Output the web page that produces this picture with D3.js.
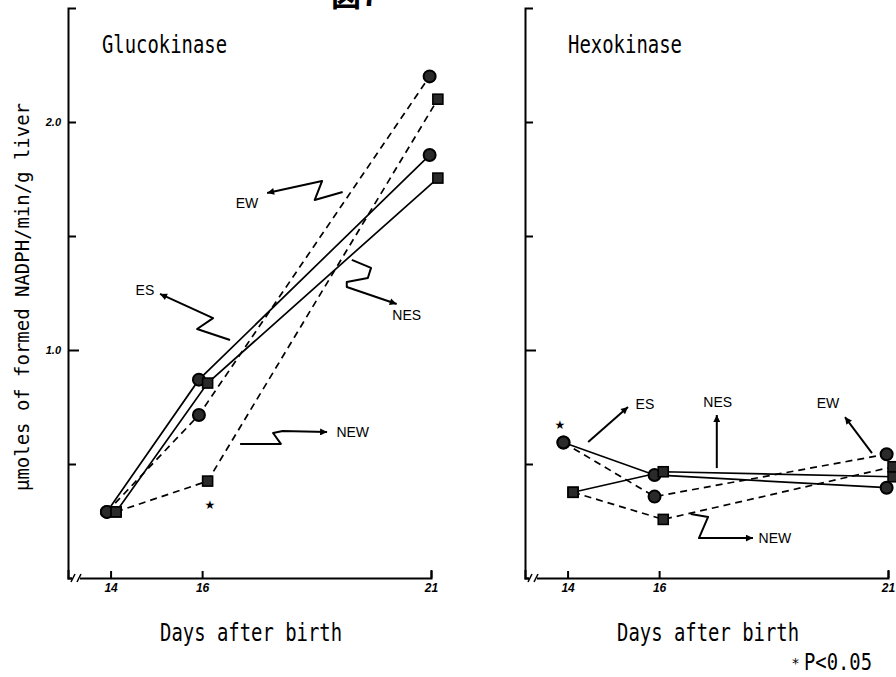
<!DOCTYPE html>
<html>
<head>
<meta charset="utf-8">
<script src="https://cdn.jsdelivr.net/npm/d3@7"></script>
<style>
  body { margin: 0; background: #fff; }
  .mono { font-family: "DejaVu Sans Mono", monospace; fill: #000; }
  .tag { font-family: "Liberation Sans", Arial, sans-serif; font-size: 14px; fill: #000; }
  .tick text { font-family: "Liberation Sans", Arial, sans-serif; font-style: italic; font-weight: bold; }
</style>
</head>
<body>
<div id="chart"></div>
<script>
// axis ticks
var tickDays = [14, 16, 21];
var yTicks = [0.5, 1.0, 1.5, 2.0];
var yLabelled = [1.0, 2.0];

// Glucokinase: days (circles / squares sit a little apart) and values
var gkDayCircle = [13.92, 15.93, 20.97];
var gkDaySquare = [14.12, 16.12, 21.15];
var gkES  = [0.29, 0.87, 1.855];
var gkEW  = [0.29, 0.715, 2.20];
var gkNES = [0.29, 0.855, 1.754];
var gkNEW = [0.29, 0.425, 2.10];

// Hexokinase
var hkDayCircle = [13.91, 15.9, 20.97];
var hkDaySquare = [14.12, 16.09, 21.11];
var hkES  = [0.594, 0.452, 0.396];
var hkEW  = [0.594, 0.357, 0.543];
var hkNES = [0.376, 0.466, 0.444];
var hkNEW = [0.376, 0.257, 0.488];

// annotation arrows, in (day, value)
var gkNotes = [
    {label: "EW", path: [[19.07, 1.693], [18.46, 1.658], [18.62, 1.741], [17.42, 1.689]], at: [16.98, 1.645]},
    {label: "ES", path: [[16.61, 1.044], [15.89, 1.092], [16.24, 1.140], [15.08, 1.246]], at: [14.75, 1.263]},
    {label: "NES", path: [[19.27, 1.395], [19.69, 1.360], [19.62, 1.316], [19.16, 1.298], [19.16, 1.276], [20.25, 1.202]], at: [20.47, 1.154]},
    {label: "NEW", path: [[16.83, 0.588], [17.72, 0.588], [17.55, 0.636], [17.76, 0.645], [18.73, 0.640]], at: [19.29, 0.640]}
];
var gkStars = [[16.17, 0.333]];

var hkNotes = [
    {label: "ES", path: [[14.45, 0.596], [15.32, 0.750]], at: [15.69, 0.762]},
    {label: "NES", path: [[17.26, 0.482], [17.26, 0.715]], at: [17.28, 0.772]},
    {label: "EW", path: [[20.65, 0.548], [20.06, 0.706]], at: [19.69, 0.768]},
    {label: "NEW", path: [[16.69, 0.281], [17.07, 0.268], [16.87, 0.175], [18.05, 0.175]], at: [18.53, 0.175]}
];
var hkStars = [[13.83, 0.684]];

var width = 896, height = 677;

var svg = d3.select("#chart").append("svg")
    .attr("width", width)
    .attr("height", height);

svg.append("defs").append("marker")
    .attr("id", "head")
    .attr("viewBox", "0 0 10 10")
    .attr("refX", 10).attr("refY", 5)
    .attr("markerWidth", 11).attr("markerHeight", 7)
    .attr("markerUnits", "userSpaceOnUse")
    .attr("orient", "auto")
    .append("path")
    .attr("d", "M0,0 L10,5 L0,10 Z")
    .attr("fill", "#000");

var y = d3.scaleLinear().domain([0, 2.5]).range([578, 8]);

// figure number, cut off at the top edge as in the scan
svg.append("text")
    .attr("x", 331).attr("y", 6)
    .attr("font-family", "Noto Sans CJK JP")
    .attr("font-weight", "bold")
    .attr("font-size", 30)
    .text("図7");

function drawPanel(left, title, titleX, titleLen, series, notes, stars, withLabels) {
    var x = d3.scaleLinear().domain([13.07, 21]).range([left, left + 363]);
    var g = svg.append("g");

    // y axis, ticks pointing inward
    var ya = g.append("g")
        .attr("transform", "translate(" + left + ",0)")
        .call(d3.axisRight(y).tickValues(yTicks).tickSize(8).tickSizeOuter(8).tickFormat(""));
    ya.selectAll("path, line").attr("stroke", "#000").attr("stroke-width", 2);
    ya.selectAll(".tick line").filter(function (d) { return d === 1; }).attr("x2", 11);

    if (withLabels) {
        var yl = g.append("g")
            .attr("transform", "translate(" + left + ",0)")
            .call(d3.axisLeft(y).tickValues(yLabelled).tickSize(0).tickPadding(7).tickFormat(d3.format(".1f")));
        yl.select(".domain").remove();
        yl.selectAll("text").attr("font-size", 11).attr("fill", "#000");
    }

    // x axis
    var xa = g.append("g")
        .attr("transform", "translate(0,578)")
        .call(d3.axisBottom(x).tickValues(tickDays).tickSize(-7).tickSizeOuter(-8).tickPadding(5));
    xa.selectAll("path, line").attr("stroke", "#000").attr("stroke-width", 2);
    xa.selectAll("text").attr("font-size", 12).attr("fill", "#000");

    // axis break
    xa.append("rect").attr("x", left + 4).attr("y", -3).attr("width", 8).attr("height", 6).attr("fill", "#fff");
    [left + 5, left + 11].forEach(function (cx) {
        xa.append("line")
            .attr("x1", cx - 2).attr("y1", 4).attr("x2", cx + 2).attr("y2", -4)
            .attr("stroke", "#000").attr("stroke-width", 1.5);
    });

    g.append("text").attr("class", "mono")
        .attr("x", titleX).attr("y", 53)
        .attr("font-size", 25)
        .attr("textLength", titleLen).attr("lengthAdjust", "spacingAndGlyphs")
        .text(title);

    var line = d3.line()
        .x(function (d) { return x(d[0]); })
        .y(function (d) { return y(d[1]); });

    g.selectAll(".series")
        .data(series)
        .enter().append("path")
        .attr("class", "series")
        .attr("d", function (d) { return line(d3.zip(d.days, d.vals)); })
        .attr("fill", "none")
        .attr("stroke", "#000")
        .attr("stroke-width", 1.7)
        .attr("stroke-dasharray", function (d) { return d.dashed ? "7,5" : null; });

    series.forEach(function (s) {
        var pts = d3.zip(s.days, s.vals);
        if (s.shape === "circle") {
            g.selectAll(null).data(pts).enter().append("circle")
                .attr("cx", function (d) { return x(d[0]); })
                .attr("cy", function (d) { return y(d[1]); })
                .attr("r", 6)
                .attr("fill", "#2a2a2a")
                .attr("stroke", "#000")
                .attr("stroke-width", 2);
        } else {
            g.selectAll(null).data(pts).enter().append("rect")
                .attr("x", function (d) { return x(d[0]) - 5; })
                .attr("y", function (d) { return y(d[1]) - 5; })
                .attr("width", 10).attr("height", 10)
                .attr("fill", "#2a2a2a")
                .attr("stroke", "#000")
                .attr("stroke-width", 1.6);
        }
    });

    g.selectAll(".note")
        .data(notes)
        .enter().append("path")
        .attr("class", "note")
        .attr("d", function (d) { return line(d.path); })
        .attr("fill", "none")
        .attr("stroke", "#000")
        .attr("stroke-width", 2)
        .attr("stroke-linejoin", "round")
        .attr("marker-end", "url(#head)");

    g.selectAll(".tag")
        .data(notes)
        .enter().append("text")
        .attr("class", "tag")
        .attr("x", function (d) { return x(d.at[0]); })
        .attr("y", function (d) { return y(d.at[1]); })
        .attr("dy", "0.35em")
        .attr("text-anchor", "middle")
        .text(function (d) { return d.label; });

    g.selectAll(".star")
        .data(stars)
        .enter().append("text")
        .attr("class", "star")
        .attr("x", function (d) { return x(d[0]); })
        .attr("y", function (d) { return y(d[1]); })
        .attr("dy", "0.6em")
        .attr("text-anchor", "middle")
        .attr("font-family", "DejaVu Sans")
        .attr("font-size", 12)
        .text("\u2605");

    g.append("text").attr("class", "mono")
        .attr("x", x(17.07)).attr("y", 641)
        .attr("text-anchor", "middle")
        .attr("font-size", 25)
        .attr("textLength", 182).attr("lengthAdjust", "spacingAndGlyphs")
        .text("Days after birth");

    return x;
}

drawPanel(68, "Glucokinase", 102, 125, [
    {days: gkDayCircle, vals: gkES, dashed: false, shape: "circle"},
    {days: gkDayCircle, vals: gkEW, dashed: true, shape: "circle"},
    {days: gkDaySquare, vals: gkNES, dashed: false, shape: "square"},
    {days: gkDaySquare, vals: gkNEW, dashed: true, shape: "square"}
], gkNotes, gkStars, true);

drawPanel(525, "Hexokinase", 568, 114, [
    {days: hkDayCircle, vals: hkES, dashed: false, shape: "circle"},
    {days: hkDayCircle, vals: hkEW, dashed: true, shape: "circle"},
    {days: hkDaySquare, vals: hkNES, dashed: false, shape: "square"},
    {days: hkDaySquare, vals: hkNEW, dashed: true, shape: "square"}
], hkNotes, hkStars, false);

// y axis title
svg.append("text").attr("class", "mono")
    .attr("transform", "translate(29,297) rotate(-90)")
    .attr("text-anchor", "middle")
    .attr("font-size", 19)
    .attr("textLength", 388).attr("lengthAdjust", "spacingAndGlyphs")
    .text("\u03bcmoles of formed NADPH/min/g liver");

// significance note
svg.append("text")
    .attr("x", 792).attr("y", 668)
    .attr("font-family", "DejaVu Sans")
    .attr("font-size", 14)
    .text("*");
svg.append("text").attr("class", "mono")
    .attr("x", 804).attr("y", 670)
    .attr("font-size", 23)
    .attr("textLength", 68).attr("lengthAdjust", "spacingAndGlyphs")
    .text("P<0.05");
</script>
</body>
</html>
